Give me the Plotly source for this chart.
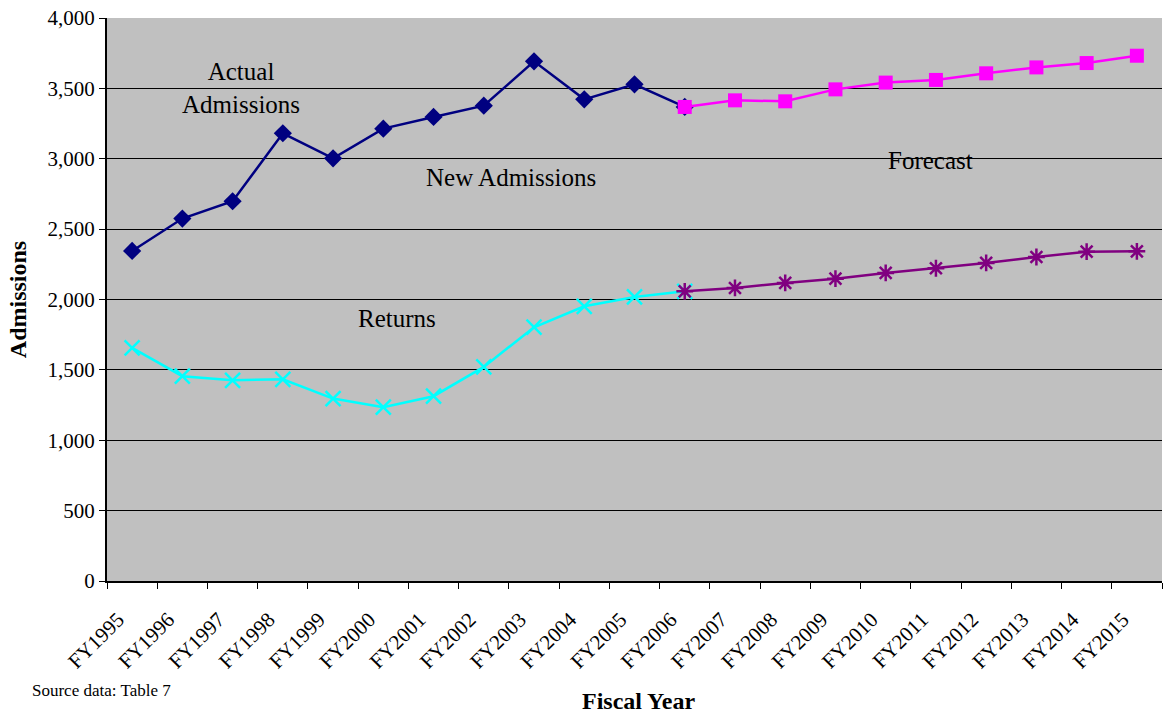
import plotly.graph_objects as go

years = ["FY%d" % y for y in range(1995, 2016)]

new_adm_years = years[:12]  # FY1995..FY2006
new_admissions = [2345, 2575, 2698, 3181, 3003, 3214, 3297, 3377, 3692, 3422, 3529, 3368]

fc_adm_years = years[11:]   # FY2006..FY2015
forecast_admissions = [3368, 3415, 3408, 3493, 3541, 3560, 3607, 3649, 3680, 3732]

ret_years = years[:12]
returns = [1656, 1455, 1426, 1433, 1296, 1235, 1313, 1521, 1803, 1952, 2018, 2058]

fc_ret_years = years[11:]
forecast_returns = [2058, 2082, 2118, 2148, 2189, 2222, 2260, 2302, 2340, 2342]

FONT = "Liberation Serif, Times New Roman, serif"

fig = go.Figure()
fig.add_trace(go.Scatter(x=ret_years, y=returns, mode="lines+markers",
                         line=dict(color="#00FFFF", width=2.5),
                         marker=dict(symbol="x-thin-open", size=15, color="#00FFFF",
                                     line=dict(color="#00FFFF", width=2.5)),
                         name="Returns"))
fig.add_trace(go.Scatter(x=fc_ret_years, y=forecast_returns, mode="lines+markers",
                         line=dict(color="#800080", width=2.5),
                         marker=dict(symbol="asterisk-open", size=14, color="#800080",
                                     line=dict(color="#800080", width=2.5)),
                         name="Forecast Returns"))
fig.add_trace(go.Scatter(x=new_adm_years, y=new_admissions, mode="lines+markers",
                         line=dict(color="#000080", width=2.5),
                         marker=dict(symbol="diamond", size=14, color="#000080"),
                         name="New Admissions"))
fig.add_trace(go.Scatter(x=fc_adm_years, y=forecast_admissions, mode="lines+markers",
                         line=dict(color="#FF00FF", width=2.5),
                         marker=dict(symbol="square", size=14, color="#FF00FF"),
                         name="Forecast Admissions"))

fig.update_layout(
    width=1164, height=715,
    margin=dict(l=107, r=2, t=18, b=134),
    paper_bgcolor="white", plot_bgcolor="#C0C0C0",
    showlegend=False,
    font=dict(family=FONT, color="black", size=21),
)
fig.update_xaxes(
    type="category", categoryorder="array", categoryarray=years,
    range=[-0.5, 20.5],
    tickson="boundaries", ticks="outside", ticklen=6, tickcolor="black",
    tickangle=-45, tickfont=dict(size=21, family=FONT),
    ticklabelshift=-14, ticklabelstandoff=16,
    showgrid=False, showline=True, linecolor="black", linewidth=2,
    mirror=False,
)
fig.update_yaxes(
    range=[0, 4000], tickvals=list(range(0, 4001, 500)),
    tickformat=",", ticks="outside", ticklen=6, tickcolor="black",
    tickfont=dict(size=21, family=FONT),
    showgrid=True, gridcolor="black", gridwidth=1,
    showline=True, linecolor="black", linewidth=2,
    zeroline=False,
    title=dict(text="<b>Admissions</b>", font=dict(size=24, family=FONT), standoff=14),
)

ann = [
    dict(text="Actual<br>Admissions", x=241, y=88, size=25),
    dict(text="New Admissions", x=511, y=177, size=25),
    dict(text="Forecast", x=930, y=160, size=25),
    dict(text="Returns", x=397, y=318, size=25),
]
for a in ann:
    fig.add_annotation(text=a["text"], xref="paper", yref="paper",
                       x=(a["x"] - 107) / (1162 - 107), y=1 - (a["y"] - 18) / (581 - 18),
                       xanchor="center", yanchor="middle", showarrow=False,
                       font=dict(size=a["size"], family=FONT, color="black"))

fig.add_annotation(text="<b>Fiscal Year</b>", xref="paper", yref="paper",
                   x=(638 - 107) / (1162 - 107), y=1 - (701 - 18) / (581 - 18),
                   xanchor="center", yanchor="middle", showarrow=False,
                   font=dict(size=24, family=FONT, color="black"))
fig.add_annotation(text="Source data: Table 7", xref="paper", yref="paper",
                   x=(30 - 107) / (1162 - 107), y=1 - (690 - 18) / (581 - 18),
                   xanchor="left", yanchor="middle", showarrow=False,
                   font=dict(size=17, family=FONT, color="black"))

fig.write_html("out.html")
